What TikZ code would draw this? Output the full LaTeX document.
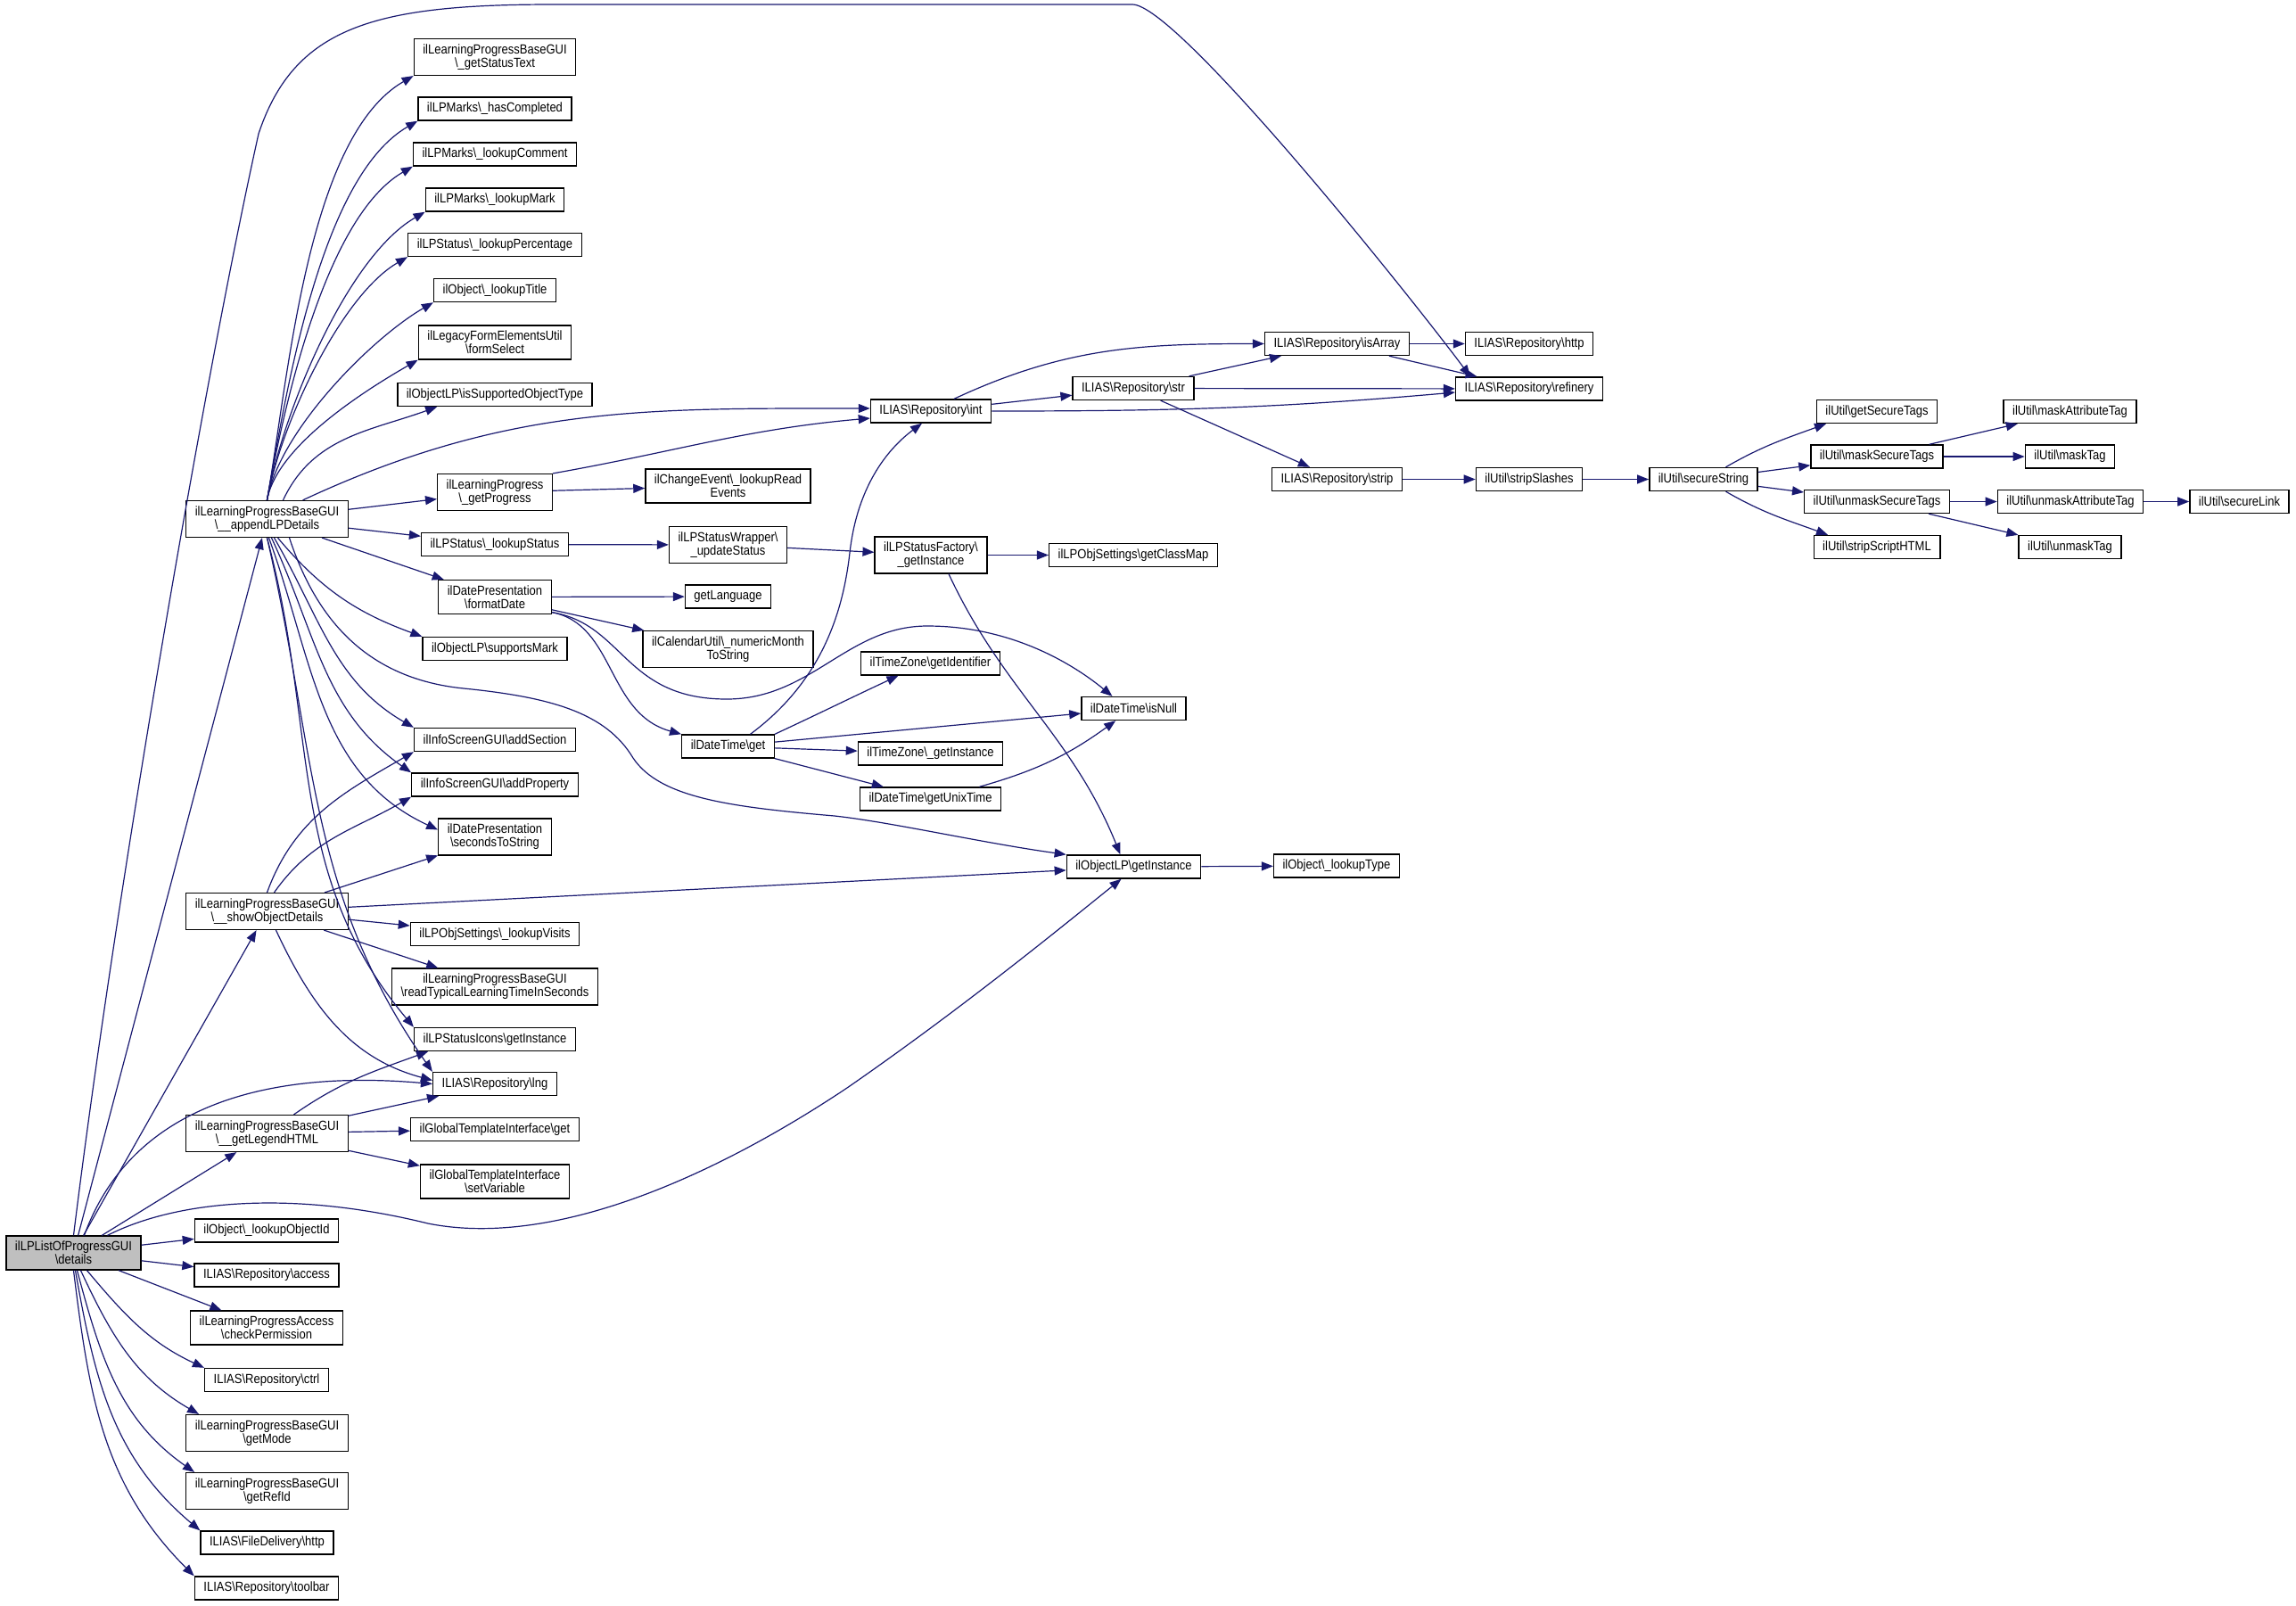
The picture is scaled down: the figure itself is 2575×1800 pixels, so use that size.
\documentclass[tikz,border=0pt]{standalone}
\usepackage{fontspec}
\setmainfont{Liberation Sans}[FakeStretch=0.88]
\usepackage{tikz}
\usetikzlibrary{arrows.meta}
\definecolor{callblue}{HTML}{191970}
\newcommand{\bsl}{\textbackslash{}}

\begin{document}
\begin{tikzpicture}[
		x=1pt, y=1pt,
		every node/.style={rectangle, draw=black, line width=1.4pt, fill=white, align=center,
			inner xsep=10pt, inner ysep=6pt, minimum height=26pt, font=\fontsize{14.8}{15}\selectfont},
		call/.style={draw=callblue, line width=1.2pt, -{Triangle[length=13pt, width=10pt]}},
		every edge/.append style={call},
		fanup/.style={out=80, in=210, looseness=0.7}
	]
  \useasboundingbox (0,0) rectangle (2575,-1800);
  \node (details) [fill=black!25] at (82.5,-1405) {ilLPListOfProgressGUI\\\bsl details};
  \node (app) at (299.5,-582) {ilLearningProgressBaseGUI\\\bsl\_\_appendLPDetails};
  \node (sod) at (299.5,-1022) {ilLearningProgressBaseGUI\\\bsl\_\_showObjectDetails};
  \node (leg) at (299.5,-1271) {ilLearningProgressBaseGUI\\\bsl\_\_getLegendHTML};
  \node (objid) at (299,-1380) {ilObject\bsl\_lookupObjectId};
  \node (acc) at (299,-1430) {ILIAS\bsl Repository\bsl access};
  \node (perm) at (299,-1489) {ilLearningProgressAccess\\\bsl checkPermission};
  \node (ctrl) at (299,-1547.5) {ILIAS\bsl Repository\bsl ctrl};
  \node (mode) at (299.5,-1607) {ilLearningProgressBaseGUI\\\bsl getMode};
  \node (refid) at (299.5,-1672) {ilLearningProgressBaseGUI\\\bsl getRefId};
  \node (fdhttp) at (299.5,-1730) {ILIAS\bsl FileDelivery\bsl http};
  \node (toolbar) at (299,-1781) {ILIAS\bsl Repository\bsl toolbar};

  \node (stext) at (555,-64) {ilLearningProgressBaseGUI\\\bsl\_getStatusText};
  \node (hascomp) at (555,-122) {ilLPMarks\bsl\_hasCompleted};
  \node (lcomment) at (555,-173) {ilLPMarks\bsl\_lookupComment};
  \node (lmark) at (555,-224) {ilLPMarks\bsl\_lookupMark};
  \node (lperc) at (555,-274.5) {ilLPStatus\bsl\_lookupPercentage};
  \node (ltitle) at (555,-325.5) {ilObject\bsl\_lookupTitle};
  \node (fsel) at (555,-384) {ilLegacyFormElementsUtil\\\bsl formSelect};
  \node (suptype) at (555,-442.5) {ilObjectLP\bsl isSupportedObjectType};
  \node (gprog) at (555,-552) {ilLearningProgress\\\bsl\_getProgress};
  \node (lstatus) at (555,-610.5) {ilLPStatus\bsl\_lookupStatus};
  \node (fdate) at (555,-669.5) {ilDatePresentation\\\bsl formatDate};
  \node (smark) at (555,-727.5) {ilObjectLP\bsl supportsMark};
  \node (addsec) at (555,-829.5) {ilInfoScreenGUI\bsl addSection};
  \node (addprop) at (555,-880) {ilInfoScreenGUI\bsl addProperty};
  \node (sec2str) at (555,-938.5) {ilDatePresentation\\\bsl secondsToString};
  \node (lvisits) at (555,-1047.5) {ilLPObjSettings\bsl\_lookupVisits};
  \node (rtyp) at (555,-1106.5) {ilLearningProgressBaseGUI\\\bsl readTypicalLearningTimeInSeconds};
  \node (icons) at (555,-1165.5) {ilLPStatusIcons\bsl getInstance};
  \node (lng) at (555,-1215.5) {ILIAS\bsl Repository\bsl lng};
  \node (gtget) at (555,-1266.5) {ilGlobalTemplateInterface\bsl get};
  \node (setvar) at (555,-1325) {ilGlobalTemplateInterface\\\bsl setVariable};

  \node (readev) at (816.5,-545) {ilChangeEvent\bsl\_lookupRead\\Events};
  \node (wrap) at (816.5,-611) {ilLPStatusWrapper\bsl\\\_updateStatus};
  \node (glang) at (816.5,-669) {getLanguage};
  \node (month) at (816.5,-728) {ilCalendarUtil\bsl\_numericMonth\\ToString};
  \node (dtget) at (816.5,-837) {ilDateTime\bsl get};
  \node (rint) at (1044,-461) {ILIAS\bsl Repository\bsl int};
  \node (fact) at (1044,-622.5) {ilLPStatusFactory\bsl\\\_getInstance};
  \node (tzid) at (1043.5,-744) {ilTimeZone\bsl getIdentifier};
  \node (tzinst) at (1043.5,-845) {ilTimeZone\bsl\_getInstance};
  \node (unix) at (1043.5,-896) {ilDateTime\bsl getUnixTime};
  \node (rstr) at (1271,-435.5) {ILIAS\bsl Repository\bsl str};
  \node (classmap) at (1271,-622.5) {ilLPObjSettings\bsl getClassMap};
  \node (isnull) at (1271.5,-794.5) {ilDateTime\bsl isNull};
  \node (olpinst) at (1271.5,-972) {ilObjectLP\bsl getInstance};
  \node (ltype) at (1499,-971) {ilObject\bsl\_lookupType};
  \node (isarr) at (1499.5,-385.5) {ILIAS\bsl Repository\bsl isArray};
  \node (strip) at (1499.5,-537.5) {ILIAS\bsl Repository\bsl strip};
  \node (rhttp) at (1715,-385.5) {ILIAS\bsl Repository\bsl http};
  \node (refin) at (1715,-436) {ILIAS\bsl Repository\bsl refinery};
  \node (sslash) at (1715,-537.5) {ilUtil\bsl stripSlashes};
  \node (sstring) at (1910.5,-537.5) {ilUtil\bsl secureString};
  \node (gstags) at (2105,-461.5) {ilUtil\bsl getSecureTags};
  \node (mstags) at (2105,-512) {ilUtil\bsl maskSecureTags};
  \node (ustags) at (2105,-562.5) {ilUtil\bsl unmaskSecureTags};
  \node (sshtml) at (2105,-613.5) {ilUtil\bsl stripScriptHTML};
  \node (matag) at (2321.5,-461.5) {ilUtil\bsl maskAttributeTag};
  \node (mtag) at (2321.5,-512) {ilUtil\bsl maskTag};
  \node (uatag) at (2322,-562.5) {ilUtil\bsl unmaskAttributeTag};
  \node (utag) at (2321.5,-613.5) {ilUtil\bsl unmaskTag};
  \node (slink) at (2511.5,-562.5) {ilUtil\bsl secureLink};

  \draw (details) edge (app) edge (sod) edge (leg) edge (objid) edge (acc) edge (perm);
  \draw[call] (details.north) .. controls (130,-1000) and (230,-420) .. (290,-150)
    .. controls (330,-30) and (420,-5) .. (620,-5) -- (1270,-5)
    .. controls (1320,-5) and (1580,-330) .. ([xshift=-66pt]refin.north);
  \draw ([xshift=12pt]details.north) edge[out=70, in=175] (lng.west);
  \draw[call] ([xshift=38pt]details.north) .. controls (200,-1345) and (330,-1335) .. (480,-1372)
    .. controls (620,-1400) and (800,-1320) .. (950,-1220)
    .. controls (1080,-1130) and (1190,-1040) .. ([xshift=-14pt]olpinst.south);
  \draw ([xshift=15pt]details.south) edge[out=-50, in=155] (ctrl.north west);
  \draw ([xshift=8pt]details.south) edge[out=-65, in=150] ([xshift=15pt]mode.north west);
  \draw ([xshift=4pt]details.south) edge[out=-75, in=145] ([xshift=10pt]refid.north west);
  \draw ([xshift=2pt]details.south) edge[out=-80, in=140] (fdhttp.north west);
  \draw (details.south) edge[out=-83, in=135] (toolbar.north west);

  \draw (app.north) edge[fanup] (stext.south west) edge[fanup] (hascomp.south west)
    edge[fanup] (lcomment.south west) edge[fanup] (lmark.south west) edge[fanup] (lperc.south west)
    edge[fanup] (ltitle.south west) edge[fanup] (fsel.south west);
  \draw ([xshift=18pt]app.north) edge[out=65, in=200] ([xshift=45pt]suptype.south west);
  \draw ([xshift=40pt]app.north) edge[out=25, in=180] ([yshift=3pt]rint.west);
  \draw (app) edge (gprog) edge (lstatus) edge (fdate);
  \draw ([xshift=12pt]app.south) edge[out=-50, in=160] (smark.north west);
  \draw ([xshift=8pt]app.south) edge[out=-60, in=150] (addsec.north west);
  \draw ([xshift=5pt]app.south) edge[out=-65, in=145] (addprop.north west);
  \draw ([xshift=2pt]app.south) edge[out=-70, in=155] ([yshift=8pt]sec2str.west);
  \draw (app.south) edge[out=-75, in=130] (icons.north west);
  \draw (app.south) edge[out=-77, in=125] (lng.north west);
  \draw[call] ([xshift=25pt]app.south) .. controls (350,-680) and (400,-760) .. (520,-772)
    .. controls (620,-782) and (680,-800) .. (710,-850)
    .. controls (740,-895) and (820,-905) .. (936,-915)
    .. controls (1000,-922) and (1100,-945) .. (olpinst.north west);

  \draw (sod.north) edge[out=70, in=210] (addsec.south west);
  \draw ([xshift=8pt]sod.north) edge[out=55, in=210] (addprop.south west);
  \draw (sod) edge (sec2str) edge (olpinst) edge (lvisits) edge (rtyp);
  \draw ([xshift=10pt]sod.south) edge[out=-65, in=165] ([yshift=4pt]lng.west);

  \draw ([xshift=30pt]leg.north) edge[out=35, in=200] ([xshift=-75pt]icons.south);
  \draw (leg) edge (lng) edge (gtget) edge (setvar);

  \draw (gprog) edge (readev);
  \draw (gprog.north east) edge[out=10, in=185] ([yshift=-8pt]rint.west);
  \draw (lstatus) edge (wrap);
  \draw (wrap) edge (fact);
  \draw (fact) edge (classmap);
  \draw ([xshift=20pt]fact.south) edge[out=-65, in=112] ([xshift=-15pt]olpinst.north);

  \draw (fdate) edge (glang) edge (month);
  \draw[call] (fdate.-15) .. controls (690,-700) and (680,-800) .. (dtget.north west);
  \draw[call] (fdate.-15) .. controls (700,-700) and (700,-784) .. (815,-784)
    .. controls (910,-784) and (950,-702) .. (1040,-702)
    .. controls (1140,-702) and (1210,-750) .. ([xshift=-24pt]isnull.north);

  \draw (dtget) edge (isnull) edge (tzinst) edge (unix);
  \draw (dtget.north east) edge[out=25, in=205] ([xshift=-36pt]tzid.south);
  \draw[call] ([xshift=25pt]dtget.north) .. controls (920,-765) and (945,-690) .. (953,-620)
    .. controls (962,-540) and (1000,-500) .. ([xshift=-10pt]rint.south);
  \draw (unix) edge[bend right=10] (isnull);
  \draw (olpinst) edge (ltype);

  \draw (rint) edge (rstr);
  \draw ([xshift=26pt]rint.north) edge[out=25, in=180] (isarr.west);
  \draw (rint.east) edge[out=0, in=185] ([yshift=-4pt]refin.west);
  \draw (rstr) edge (isarr) edge (refin) edge (strip);
  \draw (isarr) edge (rhttp) edge (refin);
  \draw (strip) edge (sslash);
  \draw (sslash) edge (sstring);
  \draw (sstring) edge (mstags) edge (ustags);
  \draw ([xshift=25pt]sstring.north) edge[out=30, in=200] ([xshift=-57pt]gstags.south);
  \draw ([xshift=25pt]sstring.south) edge[out=-30, in=160] ([xshift=-55pt]sshtml.north);
  \draw (mstags) edge (matag) edge (mtag);
  \draw (ustags) edge (uatag) edge (utag);
  \draw (uatag) edge (slink);
\end{tikzpicture}
\end{document}
